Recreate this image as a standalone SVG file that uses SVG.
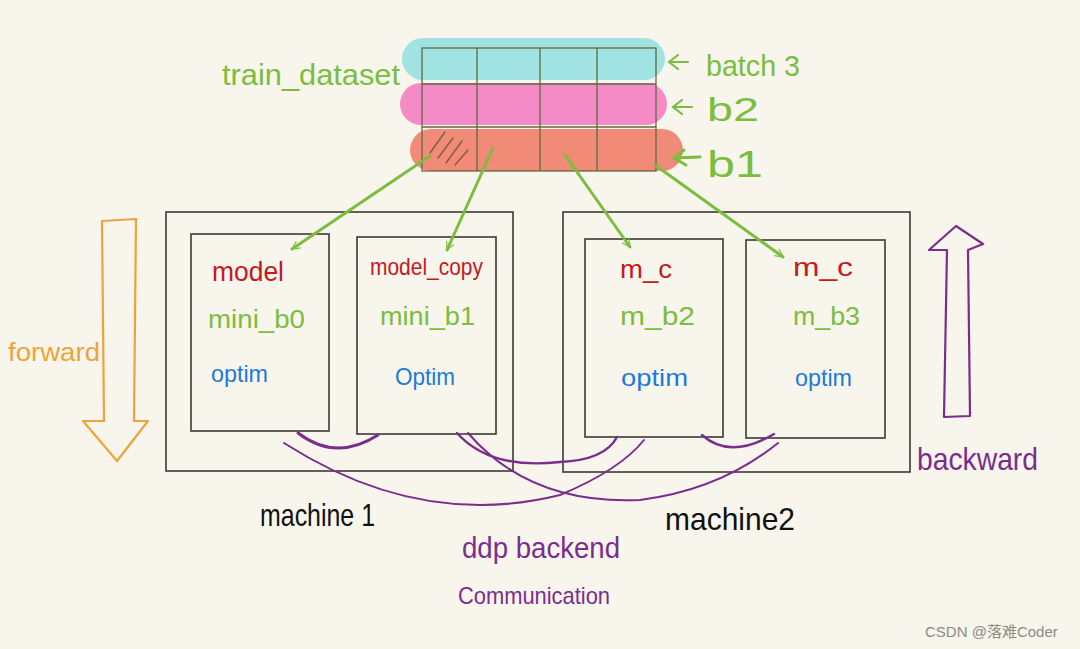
<svg xmlns="http://www.w3.org/2000/svg" width="1080" height="649" viewBox="0 0 1080 649">
<defs>
<style>
.t{font-family:"Liberation Sans","DejaVu Sans",sans-serif;}
.g{fill:#7bbd3e}.r{fill:#c41a1f}.b{fill:#1e7ad8}.p{fill:#7b2d8e}.k{fill:#111}.o{fill:#eea33a}
.box{fill:none;stroke:#3b3a33;stroke-width:1.6}
.grid{fill:none;stroke:#5f6b3c;stroke-width:1.3}
.garrow{fill:none;stroke:#7bbd3e;stroke-width:3;stroke-linecap:round}
.pc{fill:none;stroke:#7b2d8e;stroke-linecap:round}
</style>
<marker id="ah" viewBox="0 0 20 20" refX="18" refY="10" markerWidth="10" markerHeight="10" markerUnits="userSpaceOnUse" orient="auto">
<path d="M2,2 L18,10 L2,18" fill="none" stroke="#7bbd3e" stroke-width="2.4"/>
</marker>
</defs>
<rect width="1080" height="649" fill="#f8f6ec"/>

<g id="train_dataset">
<rect x="402" y="38" width="263" height="42" rx="21" fill="#a1e3e2"/>
<rect x="400" y="83" width="267" height="42" rx="21" fill="#f48bc6"/>
<rect x="410" y="129" width="273" height="42" rx="21" fill="#f18b78"/>
<g class="grid">
<rect x="422" y="48" width="234" height="123"/>
<line x1="422" y1="84" x2="656" y2="84"/>
<line x1="422" y1="127" x2="656" y2="127"/>
<line x1="477" y1="48" x2="477" y2="171"/>
<line x1="540" y1="48" x2="540" y2="171"/>
<line x1="597" y1="48" x2="597" y2="171"/>
</g>
<g stroke="#7a6040" stroke-width="1.4" fill="none" stroke-linecap="round">
<path d="M430,153 L445,132"/><path d="M438,158 L453,138"/><path d="M446,163 L462,141"/><path d="M455,165 L468,150"/>
</g>
<text class="t g" x="222" y="85" font-size="30" textLength="178" lengthAdjust="spacingAndGlyphs">train_dataset</text>
<path d="M688,62 L670,62 M678,55 L669,62 L678,69" fill="none" stroke="#7bbd3e" stroke-width="2.2" stroke-linecap="round"/>
<text class="t g" x="706" y="76" font-size="30" textLength="94" lengthAdjust="spacingAndGlyphs">batch 3</text>
<path d="M692,107 L673,107 M682,100 L673,107 L682,114" fill="none" stroke="#7bbd3e" stroke-width="2.2" stroke-linecap="round"/>
<text class="t g" x="707" y="121" font-size="34" textLength="52" lengthAdjust="spacingAndGlyphs">b2</text>
<path d="M700,157 L675,158 M684,150 L674,158 L686,165" fill="none" stroke="#7bbd3e" stroke-width="3" stroke-linecap="round"/>
<text class="t g" x="707" y="177" font-size="36" textLength="56" lengthAdjust="spacingAndGlyphs">b1</text>
</g>

<g id="machine1">
<rect class="box" x="166" y="212" width="347" height="259"/>
<text class="t k" x="260" y="526" font-size="32" textLength="115" lengthAdjust="spacingAndGlyphs">machine 1</text>
</g>
<g id="node-model">
<rect class="box" x="191" y="234" width="138" height="197"/>
<text class="t r" x="212" y="281" font-size="28" textLength="72" lengthAdjust="spacingAndGlyphs">model</text>
<text class="t g" x="208" y="328" font-size="26" textLength="97" lengthAdjust="spacingAndGlyphs">mini_b0</text>
<text class="t b" x="211" y="382" font-size="24" textLength="57" lengthAdjust="spacingAndGlyphs">optim</text>
</g>
<g id="node-model-copy">
<rect class="box" x="357" y="237" width="139" height="197"/>
<text class="t r" x="370" y="275" font-size="24" textLength="113" lengthAdjust="spacingAndGlyphs">model_copy</text>
<text class="t g" x="380" y="325" font-size="26" textLength="95" lengthAdjust="spacingAndGlyphs">mini_b1</text>
<text class="t b" x="395" y="385" font-size="24" textLength="60" lengthAdjust="spacingAndGlyphs">Optim</text>
</g>

<g id="machine2">
<rect class="box" x="563" y="212" width="347" height="260"/>
<text class="t k" x="665" y="530" font-size="32" textLength="130" lengthAdjust="spacingAndGlyphs">machine2</text>
</g>
<g id="node-mc1">
<rect class="box" x="585" y="239" width="138" height="198"/>
<text class="t r" x="620" y="278" font-size="26" textLength="52" lengthAdjust="spacingAndGlyphs">m_c</text>
<text class="t g" x="620" y="325" font-size="26" textLength="75" lengthAdjust="spacingAndGlyphs">m_b2</text>
<text class="t b" x="621" y="386" font-size="24" textLength="67" lengthAdjust="spacingAndGlyphs">optim</text>
</g>
<g id="node-mc2">
<rect class="box" x="746" y="240" width="139" height="198"/>
<text class="t r" x="793" y="276" font-size="26" textLength="60" lengthAdjust="spacingAndGlyphs">m_c</text>
<text class="t g" x="793" y="325" font-size="26" textLength="67" lengthAdjust="spacingAndGlyphs">m_b3</text>
<text class="t b" x="795" y="386" font-size="24" textLength="57" lengthAdjust="spacingAndGlyphs">optim</text>
</g>

<g id="forward">
<path d="M102,221 L136,219 L134,421 L148,421 L117,461 L83,421 L104,421 Z" fill="none" stroke="#eea33a" stroke-width="2.2" stroke-linejoin="round"/>
<text class="t o" x="8" y="361" font-size="26" textLength="92" lengthAdjust="spacingAndGlyphs">forward</text>
</g>
<g id="backward">
<path d="M944,417 L970,416 L968,250 L983,244 L956,226 L929,250 L947,250 Z" fill="none" stroke="#7b2d8e" stroke-width="2.2" stroke-linejoin="round"/>
<text class="t p" x="917" y="470" font-size="32" textLength="121" lengthAdjust="spacingAndGlyphs">backward</text>
</g>

<g id="connectors">
<path class="garrow" d="M430,156 L292,249" marker-end="url(#ah)"/>
<path class="garrow" d="M493,148 L447,250" marker-end="url(#ah)"/>
<path class="garrow" d="M565,155 L630,247" marker-end="url(#ah)"/>
<path class="garrow" d="M655,165 L783,257" marker-end="url(#ah)"/>
<path class="pc" stroke-width="3" d="M298,433 Q336,462 378,435"/>
<path class="pc" stroke-width="2" d="M284,443 Q420,530 560,495 Q620,470 644,440"/>
<path class="pc" stroke-width="2.4" d="M457,433 Q490,470 560,462 Q605,460 617,437"/>
<path class="pc" stroke-width="2" d="M468,433 Q530,505 640,500 Q720,490 778,443"/>
<path class="pc" stroke-width="2.4" d="M702,435 Q730,460 774,434"/>
</g>

<g id="labels">
<text class="t p" x="462" y="558" font-size="30" textLength="158" lengthAdjust="spacingAndGlyphs">ddp backend</text>
<text class="t p" x="458" y="604" font-size="24" textLength="152" lengthAdjust="spacingAndGlyphs">Communication</text>
<text x="925" y="637" font-size="15" fill="#8a8a86" font-family="'Liberation Sans','Noto Sans CJK SC',sans-serif">CSDN @落难Coder</text>
</g>
</svg>
